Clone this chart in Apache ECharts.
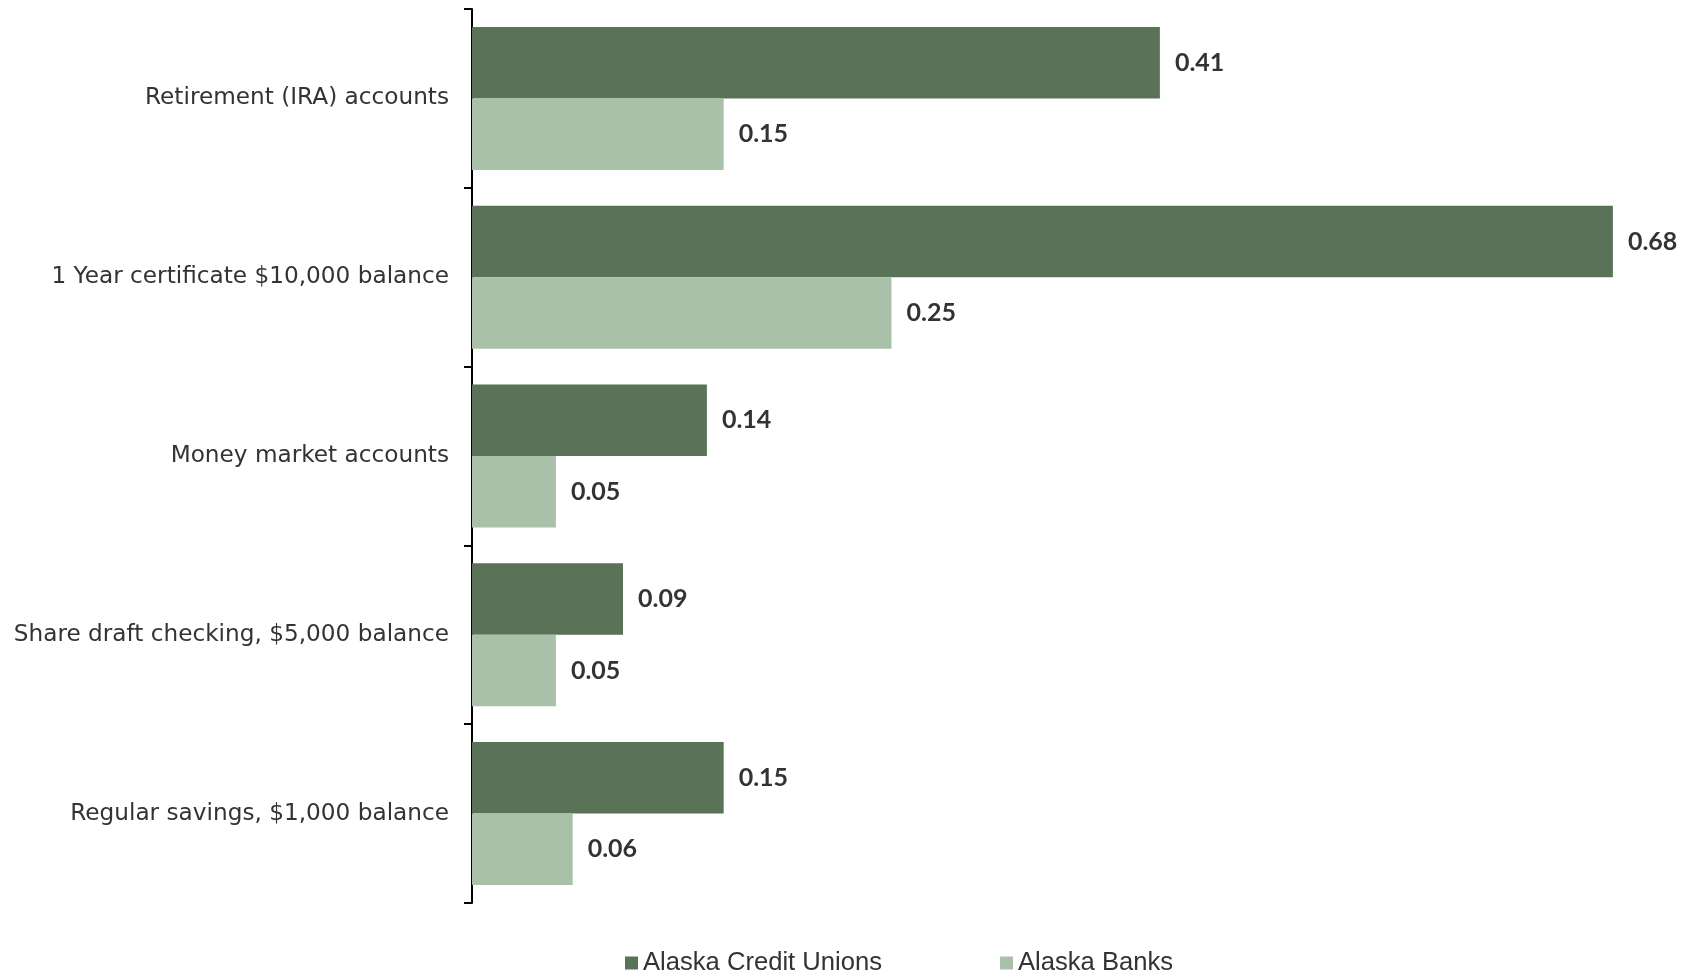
<!DOCTYPE html>
<html>
<head>
<meta charset="utf-8">
<style>
  html, body { margin: 0; padding: 0; background: #ffffff; }
  #chart { width: 1696px; height: 971px; }
</style>
<script src="https://cdn.jsdelivr.net/npm/echarts@6/dist/echarts.min.js"></script>
</head>
<body>
<div id="chart"></div>
<script>
// Dividend / interest rates by account type (percent)
const categories = [
  'Retirement (IRA) accounts',
  '1 Year certificate $10,000 balance',
  'Money market accounts',
  'Share draft checking, $5,000 balance',
  'Regular savings, $1,000 balance'
];
const creditUnions = [0.41, 0.68, 0.14, 0.09, 0.15];
const banks = [0.15, 0.25, 0.05, 0.05, 0.06];
const seriesNames = ['Alaska Credit Unions', 'Alaska Banks'];

const DARK = '#597258';
const LIGHT = '#a8c1a8';

const chart = echarts.init(document.getElementById('chart'), null, { renderer: 'canvas' });

const valueLabel = {
  show: true,
  position: 'right',
  distance: 15,
  fontFamily: 'Lato',
  fontWeight: 'bold',
  fontSize: 25,
  color: '#333333',
  formatter: p => p.value.toFixed(2)
};

chart.setOption({
  animation: false,
  backgroundColor: '#ffffff',
  grid: { left: 472, top: 9, width: 1208, height: 894, containLabel: false },
  xAxis: {
    type: 'value',
    min: 0,
    max: 0.72,
    show: false
  },
  yAxis: {
    type: 'category',
    data: categories,
    inverse: true,
    axisLine: { show: true, lineStyle: { color: '#000000', width: 2 } },
    axisTick: { show: true, length: 8, lineStyle: { color: '#000000', width: 2 } },
    axisLabel: {
      fontFamily: 'DejaVu Sans',
      fontSize: 23.2,
      color: '#333333',
      margin: 23
    },
    splitLine: { show: false }
  },
  legend: {
    data: seriesNames,
    left: 620,
    top: 945,
    icon: 'rect',
    itemWidth: 13,
    itemHeight: 13,
    itemGap: 118,
    textStyle: { fontFamily: 'Liberation Sans', fontSize: 25.6, color: '#333333' }
  },
  series: [
    {
      name: seriesNames[0],
      type: 'bar',
      data: creditUnions,
      barGap: '0%',
      barCategoryGap: '20%',
      itemStyle: { color: DARK },
      label: valueLabel
    },
    {
      name: seriesNames[1],
      type: 'bar',
      data: banks,
      barGap: '0%',
      barCategoryGap: '20%',
      itemStyle: { color: LIGHT },
      label: valueLabel
    }
  ]
});
</script>
</body>
</html>
